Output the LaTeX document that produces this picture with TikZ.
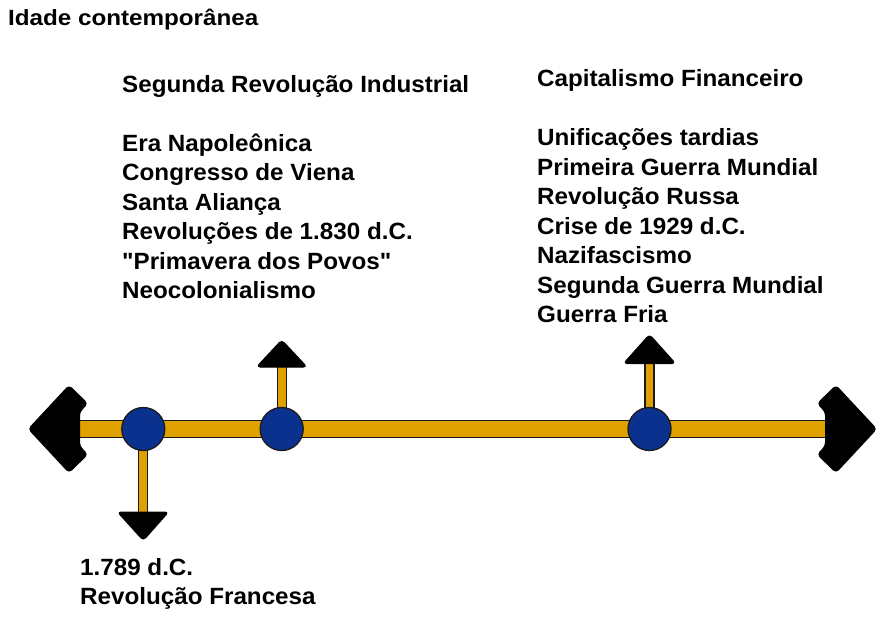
\documentclass[tikz,border=0pt]{standalone}
\usepackage{fontspec}
\setmainfont{Liberation Sans}[Ligatures=TeXOff]
\newfontfamily\labelfont{Liberation Sans}[Ligatures=TeXOff,FakeStretch=1.03]
\newfontfamily\titlefont{Liberation Sans}[Ligatures=TeXOff,FakeStretch=1.10]
\definecolor{barfill}{HTML}{DFA100}
\definecolor{dotfill}{HTML}{0B318F}
\definecolor{edge}{HTML}{1A1A1A}
% left-aligned block whose baseline is that of its first line
\newcommand{\linesblock}[1]{\begin{tabular}[t]{@{}l@{}}#1\end{tabular}}
\begin{document}
\begin{tikzpicture}[x=1pt,y=-1pt,
  barline/.style={line width=1.2pt,draw=edge,double=barfill,double distance=15.6pt},
  stemline/.style={line width=1.2pt,draw=edge,double=barfill,double distance=7.8pt},
  dot/.style={circle,draw=edge,line width=1.3pt,fill=dotfill,minimum size=43pt,inner sep=0pt},
  tiphead/.style={fill=black,draw=black,line width=1pt,rounded corners=3.5pt,line join=round},
  label/.style={anchor=base west,inner sep=0pt,font=\labelfont\bfseries\fontsize{23.5}{29.5}\selectfont},
  title/.style={anchor=base west,inner sep=0pt,font=\titlefont\bfseries\fontsize{22}{26}\selectfont}]
\useasboundingbox[fill=white] (0,0) rectangle (881,619);

% event points on the time line
\coordinate (p1) at (143.3,429);
\coordinate (p2) at (281.7,429);
\coordinate (p3) at (649.5,429);
% ends of the main bar and of the stems
\coordinate (lend) at (80,429);
\coordinate (rend) at (826,429);
\coordinate (s1) at (143.3,514);
\coordinate (s2) at (281.7,366);
\coordinate (s3) at (649.5,362);

% main bar and stems
\draw[barline] (lend) -- (rend);
\draw[stemline] (p1) -- (s1);
\draw[stemline] (p2) -- (s2);
\draw[stemline] (p3) -- (s3);

% arrow heads at both ends of the bar
\filldraw[tiphead] (28.5,429) -- (69,385.5) -- (87.5,403.5) -- (79.5,412) -- (79.5,446)
  -- (87.5,454.5) -- (69,472.5) -- cycle;
\filldraw[tiphead] (876.5,429) -- (836,385.5) -- (817.5,403.5) -- (825.5,412) -- (825.5,446)
  -- (817.5,454.5) -- (836,472.5) -- cycle;

% arrow heads at the ends of the stems
\filldraw[tiphead] (117.5,512) -- (168.5,512) -- (143.3,540.5) -- cycle;
\filldraw[tiphead] (256.5,367) -- (307,367) -- (281.7,340) -- cycle;
\filldraw[tiphead] (623.5,363.5) -- (675.5,363.5) -- (649.5,334.5) -- cycle;

% event dots
\node[dot] (c1) at (p1) {};
\node[dot] (c2) at (p2) {};
\node[dot] (c3) at (p3) {};

% texts
\node[title] (t0) at (8,25) {Idade contemporânea};
\node[label] (t1) at (122,92) {\linesblock{Segunda Revolução Industrial\\ \\
Era Napoleônica\\Congresso de Viena\\Santa Aliança\\Revoluções de 1.830 d.C.\\
"Primavera dos Povos"\\Neocolonialismo}};
\node[label] (t2) at (537,86.5) {\linesblock{Capitalismo Financeiro\\ \\
Unificações tardias\\Primeira Guerra Mundial\\Revolução Russa\\Crise de 1929 d.C.\\
Nazifascismo\\Segunda Guerra Mundial\\Guerra Fria}};
\node[label] (t3) at (80,575) {\linesblock{1.789 d.C.\\Revolução Francesa}};
\end{tikzpicture}
\end{document}
